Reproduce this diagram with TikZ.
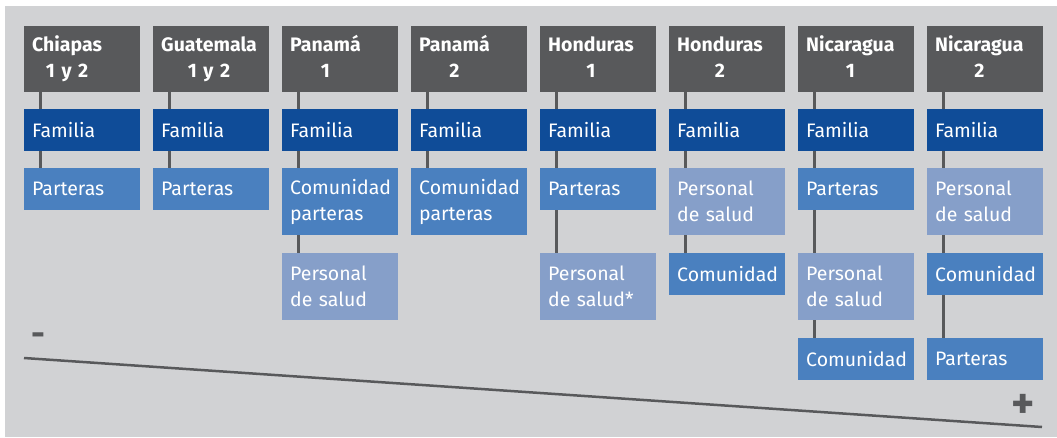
\documentclass[tikz,border=0pt]{standalone}
\usepackage{fontspec}
\setmainfont{Fira Sans}
\definecolor{bggray}{HTML}{D1D2D4}
\definecolor{headgray}{HTML}{58595B}
\definecolor{famblue}{HTML}{0F4C98}
\definecolor{midblue}{HTML}{4A80BF}
\definecolor{paleblue}{HTML}{869FC9}

\begin{document}
\begin{tikzpicture}[x=1pt, y=-1pt,
  box/.style={rectangle, anchor=north west, minimum width=116pt, text width=100pt,
    inner xsep=8pt, inner ysep=0pt, align=left, text=white, font=\fontsize{19.5}{26}\selectfont},
  head/.style={box, fill=headgray, minimum height=66pt, font=\fontsize{19.5}{26}\selectfont\bfseries},
  fam/.style={box, fill=famblue, minimum height=42pt},
  mid/.style={box, fill=midblue, minimum height=42pt},
  midtwo/.style={box, fill=midblue, minimum height=67pt},
  pale/.style={box, fill=paleblue, minimum height=67pt},
  link/.style={headgray, line width=3pt},
  sign/.style={text=headgray, inner sep=0pt, font=\fontsize{34}{36}\selectfont\bfseries}]

\useasboundingbox (0,0) rectangle (1057,437);
\fill[white] (0,0) rectangle (1057,437);
\fill[bggray] (5,6) rectangle (1057,437);

\node[head] (H1) at (24,26)  {\begin{tabular}{@{}c@{}}Chiapas\\1 y 2\end{tabular}};
\node[head] (H2) at (153,26) {\begin{tabular}{@{}c@{}}Guatemala\\1 y 2\end{tabular}};
\node[head] (H3) at (282,26) {\begin{tabular}{@{}c@{}}Panamá\\1\end{tabular}};
\node[head] (H4) at (411,26) {\begin{tabular}{@{}c@{}}Panamá\\2\end{tabular}};
\node[head] (H5) at (540,26) {\begin{tabular}{@{}c@{}}Honduras\\1\end{tabular}};
\node[head] (H6) at (669,26) {\begin{tabular}{@{}c@{}}Honduras\\2\end{tabular}};
\node[head] (H7) at (798,26) {\begin{tabular}{@{}c@{}}Nicaragua\\1\end{tabular}};
\node[head] (H8) at (927,26) {\begin{tabular}{@{}c@{}}Nicaragua\\2\end{tabular}};

\node[fam] (F1) at (24,109)  {Familia};
\node[fam] (F2) at (153,109) {Familia};
\node[fam] (F3) at (282,109) {Familia};
\node[fam] (F4) at (411,109) {Familia};
\node[fam] (F5) at (540,109) {Familia};
\node[fam] (F6) at (669,109) {Familia};
\node[fam] (F7) at (798,109) {Familia};
\node[fam] (F8) at (927,109) {Familia};

\node[mid]    (P1) at (24,168)  {Parteras};
\node[mid]    (P2) at (153,168) {Parteras};
\node[midtwo] (C3) at (282,168) {Comunidad\\parteras};
\node[pale]   (S3) at (282,253) {Personal\\de salud};
\node[midtwo] (C4) at (411,168) {Comunidad\\parteras};
\node[mid]    (P5) at (540,168) {Parteras};
\node[pale]   (S5) at (540,253) {Personal\\de salud*};
\node[pale]   (S6) at (669,168) {Personal\\de salud};
\node[mid]    (C6) at (669,253) {Comunidad};
\node[mid]    (P7) at (798,168) {Parteras};
\node[pale]   (S7) at (798,253) {Personal\\de salud};
\node[mid]    (C7) at (798,338) {Comunidad};
\node[pale]   (S8) at (927,168) {Personal\\de salud};
\node[mid]    (C8) at (927,253) {Comunidad};
\node[mid]    (P8) at (927,338) {Parteras};

\draw[link] ([xshift=16pt]H1.south west) -- ([xshift=16pt]F1.north west);
\draw[link] ([xshift=16pt]F1.south west) -- ([xshift=16pt]P1.north west);
\draw[link] ([xshift=16pt]H2.south west) -- ([xshift=16pt]F2.north west);
\draw[link] ([xshift=16pt]F2.south west) -- ([xshift=16pt]P2.north west);
\draw[link] ([xshift=16pt]H3.south west) -- ([xshift=16pt]F3.north west);
\draw[link] ([xshift=16pt]F3.south west) -- ([xshift=16pt]C3.north west);
\draw[link] ([xshift=16pt]C3.south west) -- ([xshift=16pt]S3.north west);
\draw[link] ([xshift=16pt]H4.south west) -- ([xshift=16pt]F4.north west);
\draw[link] ([xshift=16pt]F4.south west) -- ([xshift=16pt]C4.north west);
\draw[link] ([xshift=16pt]H5.south west) -- ([xshift=16pt]F5.north west);
\draw[link] ([xshift=16pt]F5.south west) -- ([xshift=16pt]P5.north west);
\draw[link] ([xshift=16pt]P5.south west) -- ([xshift=16pt]S5.north west);
\draw[link] ([xshift=16pt]H6.south west) -- ([xshift=16pt]F6.north west);
\draw[link] ([xshift=16pt]F6.south west) -- ([xshift=16pt]S6.north west);
\draw[link] ([xshift=16pt]S6.south west) -- ([xshift=16pt]C6.north west);
\draw[link] ([xshift=16pt]H7.south west) -- ([xshift=16pt]F7.north west);
\draw[link] ([xshift=16pt]F7.south west) -- ([xshift=16pt]P7.north west);
\draw[link] ([xshift=16pt]P7.south west) -- ([xshift=16pt]S7.north west);
\draw[link] ([xshift=16pt]S7.south west) -- ([xshift=16pt]C7.north west);
\draw[link] ([xshift=16pt]H8.south west) -- ([xshift=16pt]F8.north west);
\draw[link] ([xshift=16pt]F8.south west) -- ([xshift=16pt]S8.north west);
\draw[link] ([xshift=16pt]S8.south west) -- ([xshift=16pt]C8.north west);
\draw[link] ([xshift=16pt]C8.south west) -- ([xshift=16pt]P8.north west);

\node[sign] (minus) at (38,339) {-};
\node[sign, font=\fontsize{44}{46}\selectfont\bfseries] (plus) at (1023,406) {+};

\coordinate (lo) at (24,358);
\coordinate (hi) at (1042,427);
\draw[headgray, line width=2.5pt] (lo) -- (hi);
\end{tikzpicture}
\end{document}
